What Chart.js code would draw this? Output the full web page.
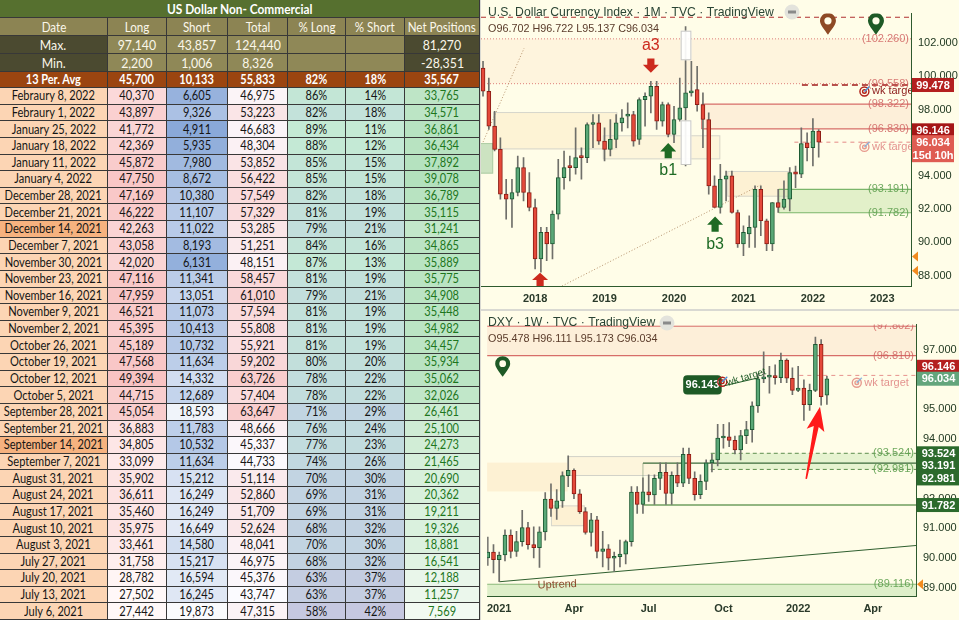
<!DOCTYPE html>
<html><head><meta charset="utf-8">
<script src="https://cdn.jsdelivr.net/npm/chart.js@4.4.1/dist/chart.umd.min.js"></script>
<style>
html,body{margin:0;padding:0;width:959px;height:620px;overflow:hidden;background:#d9d9d2;}
#tbl{position:absolute;left:0;top:0;width:480px;height:620px;background:#fff;font-family:Lato,"Open Sans",sans-serif;}
.c{position:absolute;box-sizing:border-box;border-right:1px solid #383838;border-bottom:1px solid #383838;display:flex;align-items:center;justify-content:center;white-space:nowrap;overflow:hidden;font-size:12.6px;color:#151515;}
.c span{display:inline-block;transform:scaleX(0.88);}
#top{position:absolute;left:481px;top:0;}
#bot{position:absolute;left:481px;top:311px;}
</style></head><body>
<div id="tbl"></div>
<canvas id="top" width="478" height="309"></canvas>
<canvas id="bot" width="478" height="309"></canvas>
<script>
// ---------------- TABLE DATA ----------------
const tableTitle = 'US Dollar Non- Commercial';
const headers = ['Date','Long','Short','Total','% Long','% Short','Net Positions'];
const maxRow = ['Max.','97,140','43,857','124,440','','','81,270'];
const minRow = ['Min.','2,200','1,006','8,326','','','-28,351'];
const avgRow = ['13 Per. Avg','45,700','10,133','55,833','82%','18%','35,567'];
const dates = ['Febraury 8, 2022','Febraury 1, 2022','January 25, 2022','January 18, 2022','January 11, 2022','January 4, 2022','December 28, 2021','December 21, 2021','December 14, 2021','December 7, 2021','November 30, 2021','November 23, 2021','November 16, 2021','November 9, 2021','November 2, 2021','October 26, 2021','October 19, 2021','October 12, 2021','October 5, 2021','September 28, 2021','September 21, 2021','September 14, 2021','September 7, 2021','August 31, 2021','August 24, 2021','August 17, 2021','August 10, 2021','August 3, 2021','July 27, 2021','July 20, 2021','July 13, 2021','July 6, 2021'];
const longs = [40370,43897,41772,42369,45872,47750,47169,46222,42263,43058,42020,47116,47959,46521,45395,45189,47568,49394,44715,45054,36883,34805,33099,35902,36611,35460,35975,33461,31758,28782,27502,27442];
const shorts = [6605,9326,4911,5935,7980,8672,10380,11107,11022,8193,6131,11341,13051,11073,10413,10732,11634,14332,12689,18593,11783,10532,11634,15212,16249,16249,16649,14580,15217,16594,16245,19873];
const totals = [46975,53223,46683,48304,53852,56422,57549,57329,53285,51251,48151,58457,61010,57594,55808,55921,59202,63726,57404,63647,48666,45337,44733,51114,52860,51709,52624,48041,46975,45376,43747,47315];
const pctLong = [86,82,89,88,85,85,82,81,79,84,87,81,79,81,81,81,80,78,78,71,76,77,74,70,69,69,68,70,68,63,63,58];
const pctShort = [14,18,11,12,15,15,18,19,21,16,13,19,21,19,19,19,20,22,22,29,24,23,26,30,31,31,32,30,32,37,37,42];
const nets = [33765,34571,36861,36434,37892,39078,36789,35115,31241,34865,35889,35775,34908,35448,34982,34457,35934,35062,32026,26461,25100,24273,21465,20690,20362,19211,19326,18881,16541,12188,11257,7569];
const darkDateRows = ['December 14, 2021','September 14, 2021'];

// ---------------- MONTHLY DXY (from Apr 2017) ----------------
const mStart = '2017-04';
const mOpen  = [100.5,99.1,97.0,95.6,92.9,92.6,93.0,94.5,93.0, 92.1,89.0,90.6,89.9,91.7,93.9,94.6,94.5,95.15,95.1,97.1,97.2, 96.1,95.6,96.2,97.2,97.6,97.7,96.2,98.6,98.8,99.4,97.3,98.3, 96.5,97.4,98.1,99.0,99.2,98.3,97.4,93.4,92.1,93.8,94.0,91.8, 89.9,90.5,90.9,93.2,91.3,89.9,92.4,92.1,92.6,94.25,94.1,96.0, 95.7,96.702];
const mHigh  = [100.9,99.9,97.9,96.3,93.8,93.8,95.2,95.1,94.2, 92.6,90.9,90.9,91.9,95.0,95.5,95.2,96.9,95.7,97.2,97.7,97.7, 96.9,97.4,97.7,98.0,98.4,97.9,98.7,99.0,99.7,99.7,98.45,98.4, 98.2,99.9,103.0,100.9,100.6,99.0,97.8,94.0,94.7,94.3,94.3,91.95, 91.0,91.6,93.4,93.4,91.4,92.4,93.2,93.7,94.5,94.6,96.9,96.6, 97.45,96.8];
const mLow   = [98.8,96.8,95.5,92.6,91.4,90.9,92.8,92.5,91.9, 88.4,88.2,88.9,89.0,91.4,93.2,93.7,94.1,93.8,94.8,95.7,95.9, 94.9,95.2,95.7,96.7,96.9,95.8,95.9,97.0,97.8,96.8,97.0,96.35, 96.0,97.3,94.6,98.8,97.9,95.7,92.9,92.1,91.75,92.5,91.75,89.7, 89.2,89.7,89.7,90.4,89.5,89.5,91.8,92.0,91.9,93.3,93.9,94.9, 94.6,95.137];
const mClose = [99.1,97.0,95.6,92.9,92.6,93.0,94.5,93.0,92.1, 89.0,90.6,89.9,91.7,93.9,94.5,94.5,95.1,95.1,97.1,97.2,96.1, 95.6,96.2,97.2,97.5,97.7,96.1,98.6,98.8,99.4,97.3,98.3,96.5, 97.4,98.1,99.0,99.1,98.3,97.4,93.4,92.1,93.8,94.0,91.8,89.9, 90.6,90.9,93.2,91.3,89.9,92.4,92.1,92.6,94.2,94.1,95.95,95.7, 96.7,96.034];
const yearTicks = ['2018','2019','2020','2021','2022','2023'];
const topYTicks = [88,90,92,94,96,98,100,102];

// ---------------- WEEKLY DXY (from week of 2020-12-21) ----------------
const wStart = '2020-12-21';
const wOpen  = [90.0,90.2,89.94,90.1,90.77,90.22,90.55,91.02,90.45,90.35,90.88,91.98,91.67,91.92,92.77,92.95,92.16,91.56,90.86,91.28,90.22,90.31,89.99,90.04,90.13,90.55,92.22,91.8,92.23,92.12,92.68,92.88,92.17,92.78,92.52,93.49,92.68,92.13,92.58,93.2,93.3,94.04,94.08,93.96,93.64,94.12,94.32,95.12,96.03,96.09,96.12,96.07,96.66,96.05,95.64,95.72,95.16,95.64,97.19,95.478];
const wHigh  = [90.7,90.45,90.2,90.95,90.95,90.9,91.6,91.2,91.05,91.05,92.2,92.5,92.3,92.9,93.44,93.0,92.3,91.7,91.5,91.4,90.9,90.45,90.2,90.6,90.6,92.4,92.4,92.7,92.8,92.8,93.2,93.2,92.9,93.2,93.7,93.7,92.9,92.8,93.3,93.5,94.5,94.5,94.56,94.1,94.3,94.6,95.26,96.2,96.94,96.45,96.5,96.9,96.7,96.4,96.45,96.0,95.85,97.44,97.35,96.111];
const wLow   = [89.75,89.5,89.2,89.9,90.0,90.05,90.4,90.3,90.0,89.68,90.6,91.4,91.3,91.7,92.4,92.0,91.5,90.8,90.4,90.0,89.7,89.6,89.55,89.7,89.8,90.4,91.5,91.5,91.9,91.8,92.3,91.8,91.8,92.4,92.4,92.5,91.95,92.0,92.3,92.9,93.1,93.7,93.75,93.5,93.3,93.85,93.9,94.9,95.9,95.55,95.85,95.9,95.9,95.5,95.6,94.63,94.97,95.6,95.14,95.173];
const wClose = [90.2,89.94,90.1,90.77,90.22,90.55,91.02,90.45,90.35,90.88,91.98,91.67,91.92,92.77,92.95,92.16,91.56,90.86,91.28,90.22,90.31,89.99,90.04,90.13,90.55,92.22,91.8,92.23,92.12,92.68,92.88,92.17,92.78,92.52,93.49,92.68,92.13,92.58,93.2,93.3,94.04,94.08,93.96,93.64,94.12,94.32,95.12,96.03,96.09,96.12,96.07,96.66,96.05,95.64,95.72,95.16,95.64,97.19,95.43,96.034];
const wTickDates  = ['2021-01-04','2021-04-05','2021-07-05','2021-10-04','2022-01-03','2022-04-04'];
const wTickLabels = ['2021','Apr','Jul','Oct','2022','Apr'];
const botYTicks = [89,90,91,92,93,94,95,96,97];

// ---------------- TABLE BUILD ----------------
function hex(c){return [parseInt(c.slice(1,3),16),parseInt(c.slice(3,5),16),parseInt(c.slice(5,7),16)];}
function lerp(a,b,t){t=Math.max(0,Math.min(1,t));const A=hex(a),B=hex(b);return 'rgb('+A.map((v,i)=>Math.round(v+(B[i]-v)*t)).join(',')+')';}
function scale(arr,v){const mn=Math.min(...arr),mx=Math.max(...arr);return (v-mn)/(mx-mn);}
const fmt = v => v.toLocaleString('en-US');
const colX = [0,108,167,228,288,346,405,480];
const tbl = document.getElementById('tbl');
function cell(ci,top,h,text,bg,style){
  const d=document.createElement('div');d.className='c';
  const x0=colX[ci], x1=colX[ci+ (style&&style.span?style.span:1)];
  d.style.left=x0+'px';d.style.top=top+'px';d.style.width=(x1-x0)+'px';d.style.height=h+'px';
  d.style.background=bg;
  const s=document.createElement('span');s.textContent=text;d.appendChild(s);
  if(style) for(const k in style){ if(k!=='span') d.style[k]=style[k]; }
  tbl.appendChild(d);
}
cell(0,0,18,tableTitle,'#56702f',{span:7,color:'#fff',fontWeight:'700',fontSize:'13.5px'});
headers.forEach((h,i)=>cell(i,18,18,h,'#8c8453',{color:'#fbf7ea',fontSize:'13.2px'}));
[maxRow,minRow].forEach((r,k)=>r.forEach((v,i)=>{
  const dark=(i===0||i===6);
  cell(i,36+18*k,18,v,dark?'#4b4a30':'#8f8857',{color:'#fbf7ea',fontSize:'14px'});
}));
avgRow.forEach((v,i)=>cell(i,72,16,v,'#9b4510',{color:'#fff',fontWeight:'700',fontSize:'12.5px'}));
const rowH = (620-88)/dates.length;
dates.forEach((d,r)=>{
  const top=88+r*rowH;
  const pl=pctLong[r];
  const pc = pl<72 ? lerp('#c6c8e0','#c1d6e2',(pl-58)/14) : lerp('#c1d6e2','#c4ead4',(pl-72)/17);
  cell(0,top,rowH,d,darkDateRows.includes(d)?'#f6b27f':'#fcd5b4');
  cell(1,top,rowH,fmt(longs[r]),lerp('#fff8f8','#f8c3c3',scale(longs,longs[r])));
  cell(2,top,rowH,fmt(shorts[r]),lerp('#8aa9d9','#fafbfd',scale(shorts,shorts[r])));
  cell(3,top,rowH,fmt(totals[r]),lerp('#fbfbff','#f9cdcd',scale(totals,totals[r])));
  cell(4,top,rowH,pl+'%',pc);
  cell(5,top,rowH,pctShort[r]+'%',pc);
  cell(6,top,rowH,fmt(nets[r]),lerp('#f2faf2','#b3e1bd',scale(nets,nets[r])),{color:'#1d761d'});
});

// ---------------- CHART HELPERS ----------------
const BG = '#fffde8';
const FONT = '"Liberation Sans", Arial, sans-serif';
function overlayPlugin(items){
  function px(ch,v,axis){
    const ca=ch.chartArea;
    if(axis==='x'){ if(v==='L') return ca.left; if(v==='R') return ca.right; return ch.scales.x.getPixelForValue(v);}
    if(v==='T') return ca.top; if(v==='B') return ca.bottom; return ch.scales.y.getPixelForValue(v);
  }
  function draw(ch,layer){
    const ctx=ch.ctx, ca=ch.chartArea, X=v=>px(ch,v,'x'), Y=v=>px(ch,v,'y');
    ctx.save();
    if(layer!=='axis'){ctx.beginPath();ctx.rect(ca.left,ca.top,ca.right-ca.left,ca.bottom-ca.top);ctx.clip();}
    for(const it of items){
      if((it.layer||'back')!==layer) continue;
      ctx.save();
      ctx.setLineDash(it.dash||[]);
      ctx.lineWidth=it.lw||1;
      if(it.t==='rect'){
        const x0=X(it.x0),x1=X(it.x1),y0=Y(it.y0),y1=Y(it.y1);
        if(it.fill){ctx.fillStyle=it.fill;ctx.fillRect(x0,y0,x1-x0,y1-y0);}
        if(it.stroke){ctx.strokeStyle=it.stroke;ctx.strokeRect(x0+0.5,y0+0.5,x1-x0-1,y1-y0-1);}
      } else if(it.t==='line'){
        ctx.strokeStyle=it.color;ctx.beginPath();
        ctx.moveTo(X(it.x0),Y(it.y0));ctx.lineTo(X(it.x1),Y(it.y1));ctx.stroke();
      } else if(it.t==='text'){
        ctx.fillStyle=it.color;ctx.font=it.font||('11px '+FONT);
        ctx.textAlign=it.align||'left';ctx.textBaseline='middle';
        const x = it.px!==undefined ? it.px : X(it.x);
        const y = it.py!==undefined ? it.py : Y(it.y);
        ctx.translate(x,y); if(it.rot) ctx.rotate(it.rot);
        ctx.fillText(it.text,0,0);
      } else if(it.t==='tag'){
        const y=Y(it.y)+(it.dy||0), lines=it.lines||[it.text];
        const h=14+(lines.length-1)*13;
        ctx.fillStyle=it.bg;ctx.fillRect(ca.right+1,y-7,(it.w||42),h);
        ctx.fillStyle=it.color||'#fff';ctx.font='bold 11px '+FONT;ctx.textAlign='center';ctx.textBaseline='middle';
        lines.forEach((l,k)=>ctx.fillText(l,ca.right+1+(it.w||42)/2,y+k*13+0.5));
      } else if(it.t==='arrow'){
        const x=X(it.x),yt=Y(it.tip),yb=Y(it.base),d=yb>yt?1:-1,hh=Math.abs(yb-yt)*0.55,w=it.w||8;
        ctx.fillStyle=it.color;ctx.beginPath();
        ctx.moveTo(x,yt);ctx.lineTo(x+w,yt+d*hh);ctx.lineTo(x+w*0.45,yt+d*hh);ctx.lineTo(x+w*0.45,yb);
        ctx.lineTo(x-w*0.45,yb);ctx.lineTo(x-w*0.45,yt+d*hh);ctx.lineTo(x-w,yt+d*hh);ctx.closePath();ctx.fill();
      } else if(it.t==='bigarrow'){
        const x0=X(it.x0),y0=Y(it.y0),x1=X(it.x1),y1=Y(it.y1);
        const ang=Math.atan2(y1-y0,x1-x0);
        ctx.translate(x1,y1);ctx.rotate(ang);
        const L=Math.hypot(x1-x0,y1-y0);
        ctx.fillStyle=it.color;ctx.beginPath();
        ctx.moveTo(0,0);ctx.lineTo(-24,-9);ctx.lineTo(-20,-2.5);ctx.lineTo(-L,-0.8);ctx.lineTo(-L,0.8);ctx.lineTo(-20,2.5);ctx.lineTo(-24,9);ctx.closePath();ctx.fill();
      } else if(it.t==='pin'){
        const x=X(it.x),yt=Y(it.tip),r=it.r||8,cy=yt-r*1.75;
        ctx.fillStyle=it.color;ctx.beginPath();
        ctx.moveTo(x,yt);ctx.bezierCurveTo(x-r*0.4,yt-r*0.6,x-r,cy+r*0.5,x-r,cy);
        ctx.arc(x,cy,r,Math.PI,0);ctx.bezierCurveTo(x+r,cy+r*0.5,x+r*0.4,yt-r*0.6,x,yt);ctx.fill();
        ctx.fillStyle=BG;ctx.beginPath();ctx.arc(x,cy,r*0.45,0,Math.PI*2);ctx.fill();
      } else if(it.t==='tri'){
        const y=Y(it.y),x=ca.right+1;
        ctx.fillStyle=it.color;ctx.beginPath();ctx.moveTo(x,y);ctx.lineTo(x+6,y-5);ctx.lineTo(x+6,y+5);ctx.closePath();ctx.fill();
      } else if(it.t==='target'){
        const x=X(it.x),y=Y(it.y);
        ctx.strokeStyle=it.color;ctx.lineWidth=1.4;
        ctx.beginPath();ctx.arc(x,y,4.5,0,Math.PI*2);ctx.stroke();
        ctx.beginPath();ctx.arc(x,y,1.8,0,Math.PI*2);ctx.stroke();
        ctx.strokeStyle=it.color2||'#4a90d9';ctx.beginPath();ctx.moveTo(x,y);ctx.lineTo(x+5,y-5);ctx.stroke();
      } else if(it.t==='box'){
        const x0=X(it.x0),x1=X(it.x1),y0=Y(it.y0),y1=Y(it.y1);
        ctx.fillStyle=it.fill;ctx.beginPath();ctx.roundRect(x0,y0,x1-x0,y1-y0,4);ctx.fill();
        ctx.fillStyle='#fff';ctx.font='bold 11px '+FONT;ctx.textAlign='center';ctx.textBaseline='middle';
        ctx.fillText(it.text,(x0+x1)/2,(y0+y1)/2+0.5);
      } else if(it.t==='minus'){
        ctx.fillStyle='#e3e3dc';ctx.beginPath();ctx.arc(it.px,it.py,7.5,0,Math.PI*2);ctx.fill();
        ctx.fillStyle='#8a8a8a';ctx.fillRect(it.px-4,it.py-1.5,8,3);
      }
      ctx.restore();
    }
    ctx.restore();
  }
  return {
    id:'overlay',
    beforeDraw(ch){const c=ch.ctx;c.save();c.fillStyle=BG;c.fillRect(0,0,ch.width,ch.height);c.restore();},
    beforeDatasetsDraw(ch){draw(ch,'back');},
    afterDatasetsDraw(ch){draw(ch,'front');},
    afterDraw(ch){draw(ch,'axis');}
  };
}

function makeChart(id,o){
  const xs=o.open.map((_,i)=>o.x0+i);
  const up=i=>o.close[i]>=o.open[i];
  new Chart(document.getElementById(id),{
    type:'bar',
    data:{datasets:[
      {data:xs.map((x,i)=>({x,y:[o.low[i],o.high[i]]})),backgroundColor:'#6f6f6a',barThickness:1,grouped:false,order:2},
      {data:xs.map((x,i)=>({x,y:[o.open[i],o.close[i]]})),
       backgroundColor:c=>up(c.dataIndex)?'#5aa877':'#e4493a',
       borderColor:c=>up(c.dataIndex)?'#1d5a33':'#8c1d15',
       borderWidth:1,borderSkipped:false,barThickness:4,minBarLength:2,grouped:false,order:1}
    ]},
    options:{
      responsive:false,animation:false,events:[],
      layout:{padding:0},
      plugins:{legend:{display:false},tooltip:{enabled:false}},
      scales:{
        x:{type:'linear',min:o.xmin,max:o.xmax,offset:false,
           grid:{display:false,drawTicks:false},
           border:{display:true,color:'#2e5a2e',width:1},
           ticks:{autoSkip:false,maxRotation:0,padding:o.xPad,color:'#2a3a2a',font:{family:FONT,size:11,weight:'bold'},
                  callback:(v,i)=>o.xLabels[i]},
           afterBuildTicks:s=>{s.ticks=o.xTicks.map(v=>({value:v}));},
           afterFit:s=>{s.height=o.xH;}},
        y:{type:'linear',position:'right',min:o.ymin,max:o.ymax,
           grid:{display:false,drawTicks:false},
           border:{display:true,color:'#2e5a2e',width:1},
           ticks:{padding:7,color:'#223a22',font:{family:FONT,size:11},callback:v=>v.toFixed(3)},
           afterBuildTicks:s=>{s.ticks=o.yTicks.map(v=>({value:v}));},
           afterFit:s=>{s.width=o.yW;}}
      }
    },
    plugins:[overlayPlugin(o.items)]
  });
}

// ---------------- TOP (MONTHLY) ----------------
const mY=+mStart.slice(0,4), mM=+mStart.slice(5,7);
const mX0=(mY-2018)*12+(mM-1);
const red='rgba(205,75,75,0.8)', redTxt='rgba(205,90,90,0.8)', grnTxt='rgba(95,160,80,0.9)';
const zoneFill='rgba(250,214,190,0.36)';
const topItems=[
  {t:'rect',x0:'L',x1:'R',y0:102.26,y1:99.558,fill:'rgba(252,226,196,0.3)'},
  {t:'line',x0:'L',x1:'R',y0:102.26,y1:102.26,color:'rgba(210,90,90,0.75)',dash:[1,2]},
  {t:'line',x0:'L',x1:'R',y0:99.558,y1:99.558,color:'rgba(210,90,90,0.75)',dash:[1,2]},
  {t:'line',x0:'L',x1:'R',y0:103.56,y1:103.56,color:'#b03030',dash:[5,4],lw:1.2},
  {t:'rect',x0:-9.8,x1:-7.25,y0:95.98,y1:94.14,fill:'rgba(198,224,188,0.9)',stroke:'rgba(175,205,165,1)'},
  {t:'rect',x0:-7.25,x1:14.2,y0:97.85,y1:95.6,fill:'rgba(252,238,205,0.7)',stroke:'#d6d6cc'},
  {t:'rect',x0:11.7,x1:32,y0:96.45,y1:95.0,fill:'rgba(252,238,205,0.5)',stroke:'#d6d6cc'},
  {t:'rect',x0:28.8,x1:'R',y0:98.322,y1:96.83,fill:zoneFill},
  {t:'line',x0:28.8,x1:'R',y0:98.322,y1:98.322,color:red,lw:1.2},
  {t:'line',x0:28.8,x1:'R',y0:96.83,y1:96.83,color:red,lw:1.2},
  {t:'line',x0:28.8,x1:28.8,y0:98.322,y1:96.83,color:red,lw:1.2},
  {t:'rect',x0:33.2,x1:44,y0:94.3,y1:92.75,fill:'rgba(252,238,205,0.8)',stroke:'#d6d6cc'},
  {t:'rect',x0:42.1,x1:'R',y0:93.191,y1:91.782,fill:'rgba(190,224,165,0.45)'},
  {t:'line',x0:42.1,x1:'R',y0:93.191,y1:93.191,color:'rgba(110,175,95,0.9)',lw:1.2},
  {t:'line',x0:42.1,x1:'R',y0:91.782,y1:91.782,color:'rgba(110,175,95,0.9)',lw:1.2},
  {t:'line',x0:42.1,x1:42.1,y0:93.191,y1:91.782,color:'rgba(110,175,95,0.9)',lw:1},
  {t:'line',x0:46.1,x1:'R',y0:99.478,y1:99.478,color:'#a01818',dash:[6,4],lw:1.5},
  {t:'line',x0:44.8,x1:'R',y0:96.034,y1:96.034,color:'rgba(222,110,110,0.8)',dash:[4,4]},
  {t:'line',x0:-9,x1:-1.9,y0:96.04,y1:101.7,color:'rgba(170,130,90,0.85)',dash:[1,2]},
  {t:'line',x0:4.66,x1:38.9,y0:87.37,y1:93.45,color:'rgba(170,130,90,0.85)',dash:[1,2]},
  {t:'rect',x0:25.15,x1:27.0,y0:102.75,y1:100.97,fill:'rgba(255,255,255,0.92)',stroke:'#c8c8c4',layer:'front'},
  {t:'rect',x0:25.15,x1:27.0,y0:97.35,y1:94.66,fill:'rgba(255,255,255,0.92)',stroke:'#c8c8c4',layer:'front'},
  {t:'arrow',x:20,tip:100.22,base:101.08,color:'#cc2a1e',w:8,layer:'front'},
  {t:'text',x:20,y:101.85,text:'a3',color:'#cc2a1e',font:'16px '+FONT,align:'center',layer:'front'},
  {t:'arrow',x:23,tip:95.98,base:95.06,color:'#1e6a24',w:8,layer:'front'},
  {t:'text',x:23,y:94.3,text:'b1',color:'#1e6a24',font:'16px '+FONT,align:'center',layer:'front'},
  {t:'arrow',x:31.1,tip:91.56,base:90.64,color:'#1e6a24',w:8,layer:'front'},
  {t:'text',x:31.1,y:89.85,text:'b3',color:'#1e6a24',font:'16px '+FONT,align:'center',layer:'front'},
  {t:'arrow',x:0.86,tip:88.17,base:87.37,color:'#cc2a1e',w:8,layer:'front'},
  {t:'pin',x:50.6,tip:102.5,color:'#8e4a25',r:8,layer:'front'},
  {t:'pin',x:58.9,tip:102.5,color:'#1e5a26',r:8,layer:'front'},
  {t:'text',px:428,y:102.26,text:'(102.260)',color:redTxt,align:'right',layer:'front'},
  {t:'text',px:428,y:99.558,text:'(99.558)',color:redTxt,align:'right',layer:'front'},
  {t:'text',px:428,y:98.322,text:'(98.322)',color:redTxt,align:'right',layer:'front'},
  {t:'text',px:428,y:96.83,text:'(96.830)',color:redTxt,align:'right',layer:'front'},
  {t:'text',px:428,y:93.191,text:'(93.191)',color:grnTxt,align:'right',layer:'front'},
  {t:'text',px:428,y:91.782,text:'(91.782)',color:grnTxt,align:'right',layer:'front'},
  {t:'target',x:56.9,y:99.09,color:'#b0201a',layer:'front'},
  {t:'text',x:58.2,y:99.09,text:'wk target',color:'#8b1a1a',font:'11px '+FONT,layer:'front'},
  {t:'target',x:56.9,y:95.75,color:'rgba(225,130,120,0.8)',color2:'rgba(120,170,220,0.8)',layer:'front'},
  {t:'text',x:58.2,y:95.75,text:'wk target',color:'rgba(220,120,120,0.8)',font:'11px '+FONT,layer:'front'},
  {t:'tag',y:99.478,text:'99.478',bg:'#b41f1f',layer:'axis'},
  {t:'tag',y:96.146,dy:-10,text:'96.146',bg:'#a51616',layer:'axis'},
  {t:'tag',y:96.034,lines:['96.034','15d 10h'],bg:'#df5c52',layer:'axis'},
  {t:'tri',y:89.15,color:'#f28a1e',layer:'axis'},
  {t:'tri',y:88.29,color:'#f28a1e',layer:'axis'},
  {t:'minus',px:311,py:12,layer:'axis'},
  {t:'text',px:7,py:13,text:'U.S. Dollar Currency Index · 1M · TVC · TradingView',color:'#2a4434',font:'12.2px '+FONT,layer:'axis'},
  {t:'text',px:7,py:29,text:'O96.702 H96.722 L95.137 C96.034',color:'#5a3b2a',font:'10.8px '+FONT,layer:'axis'}
];
makeChart('top',{
  x0:mX0,open:mOpen,high:mHigh,low:mLow,close:mClose,
  xmin:-9.35,xmax:64.95,ymin:87.37,ymax:103.78,
  xTicks:yearTicks.map(y=>(+y-2018)*12),xLabels:yearTicks,yTicks:topYTicks,
  xH:23,yW:48,xPad:6,items:topItems
});

// ---------------- BOTTOM (WEEKLY) ----------------
const WEEK=7*864e5, wRef=Date.parse('2021-01-04');
const wX0=Math.round((Date.parse(wStart)-wRef)/WEEK);
const gTag='#2c6a2c';
const botItems=[
  {t:'rect',x0:'L',x1:'R',y0:97.802,y1:96.81,fill:zoneFill},
  {t:'line',x0:'L',x1:'R',y0:96.81,y1:96.81,color:red,lw:1.2},
  {t:'line',x0:'L',x1:'R',y0:97.802,y1:97.802,color:red,lw:1},
  {t:'rect',x0:'L',x1:11.9,y0:93.21,y1:92.24,fill:'rgba(252,238,205,0.8)'},
  {t:'rect',x0:11.9,x1:32,y0:93.43,y1:92.76,fill:'rgba(252,240,212,0.6)',stroke:'#d2d2c8'},
  {t:'rect',x0:9,x1:14.9,y0:91.77,y1:91.07,fill:'rgba(252,238,205,0.8)',stroke:'#d6d6cc'},
  {t:'rect',x0:36.8,x1:'R',y0:93.524,y1:92.981,fill:'rgba(200,230,180,0.45)'},
  {t:'line',x0:36.8,x1:'R',y0:93.524,y1:93.524,color:'#5e8e4e',dash:[4,3]},
  {t:'line',x0:36.8,x1:'R',y0:92.981,y1:92.981,color:'#5e8e4e',dash:[4,3]},
  {t:'line',x0:25,x1:'R',y0:93.191,y1:93.191,color:'#3a6a3a',lw:1.2},
  {t:'line',x0:25,x1:'R',y0:91.782,y1:91.782,color:'#6f9e5f',lw:1.6},
  {t:'line',x0:25,x1:25,y0:93.191,y1:91.782,color:'rgba(120,150,110,0.6)'},
  {t:'rect',x0:'L',x1:'R',y0:89.116,y1:'B',fill:'rgba(195,228,175,0.55)'},
  {t:'line',x0:'L',x1:'R',y0:89.116,y1:89.116,color:'#8ab87a',lw:1.2},
  {t:'line',x0:0,x1:72.5,y0:89.2,y1:90.42,color:'#2f5f2f',lw:1.2},
  {t:'line',x0:0,x1:0,y0:90.1,y1:89.2,color:'#8a8a80'},
  {t:'line',x0:52.2,x1:'R',y0:96.146,y1:96.146,color:'rgba(225,120,120,0.8)',dash:[4,4]},
  {t:'pin',x:0.6,tip:96.1,color:'#1e5a26',r:7.5,layer:'front'},
  {t:'box',x0:32,x1:38.7,y0:96.15,y1:95.5,text:'96.143',fill:'#1e5a26',layer:'front'},
  {t:'target',x:38.8,y:95.93,color:'#b0201a',layer:'front'},
  {t:'text',x:39.6,y:95.88,text:'wk target',color:'#1e5a26',font:'10px '+FONT,rot:-0.3,layer:'front'},
  {t:'line',x0:39.2,x1:45.2,y0:95.8,y1:96.07,color:'#1e5a26',layer:'front'},
  {t:'bigarrow',x0:53.4,y0:92.66,x1:55.8,y1:95.09,color:'#ff1a1a',layer:'front'},
  {t:'text',x:10.1,y:89.1,text:'Uptrend',color:'#8b4a2b',font:'11px '+FONT,align:'center',rot:-0.04,layer:'front'},
  {t:'text',px:433,y:97.802,text:'(97.802)',color:redTxt,align:'right',layer:'front'},
  {t:'text',px:433,y:96.81,text:'(96.810)',color:redTxt,align:'right',layer:'front'},
  {t:'text',px:433,y:93.524,text:'(93.524)',color:grnTxt,align:'right',layer:'front'},
  {t:'text',px:433,y:92.981,text:'(92.981)',color:grnTxt,align:'right',layer:'front'},
  {t:'text',px:433,y:89.116,text:'(89.116)',color:grnTxt,align:'right',layer:'front'},
  {t:'target',x:62.2,y:95.9,color:'rgba(225,130,120,0.8)',color2:'rgba(120,170,220,0.8)',layer:'front'},
  {t:'text',x:63.5,y:95.9,text:'wk target',color:'rgba(220,120,120,0.8)',font:'11px '+FONT,layer:'front'},
  {t:'tag',y:96.146,dy:-8.6,text:'96.146',bg:'#b41f1f',w:43,layer:'axis'},
  {t:'tag',y:96.034,text:'96.034',bg:'#63a57c',w:43,layer:'axis'},
  {t:'tag',y:93.524,text:'93.524',bg:gTag,w:43,layer:'axis'},
  {t:'tag',y:93.191,dy:2.5,text:'93.191',bg:gTag,w:43,layer:'axis'},
  {t:'tag',y:92.981,dy:9,text:'92.981',bg:gTag,w:43,layer:'axis'},
  {t:'tag',y:91.782,text:'91.782',bg:gTag,w:43,layer:'axis'},
  {t:'tri',y:89.116,color:'#f28a1e',layer:'axis'},
  {t:'minus',px:186,py:12,layer:'axis'},
  {t:'text',px:7,py:12,text:'DXY · 1W · TVC · TradingView',color:'#2a4434',font:'12.2px '+FONT,layer:'axis'},
  {t:'text',px:7,py:28,text:'O95.478 H96.111 L95.173 C96.034',color:'#5a3b2a',font:'10.8px '+FONT,layer:'axis'}
];
makeChart('bot',{
  x0:wX0,open:wOpen,high:wHigh,low:wLow,close:wClose,
  xmin:-2.11,xmax:72.5,ymin:88.72,ymax:97.856,
  xTicks:wTickDates.map(d=>Math.round((Date.parse(d)-wRef)/WEEK)),xLabels:wTickLabels,yTicks:botYTicks,
  xH:24,yW:43,xPad:6,items:botItems
});
</script>
</body></html>
